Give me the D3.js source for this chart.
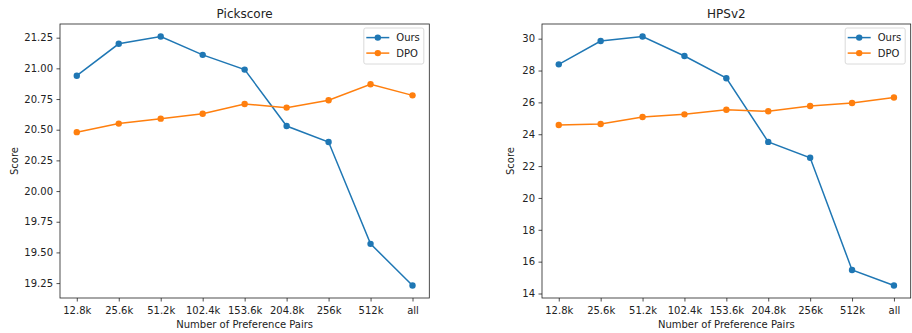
<!DOCTYPE html>
<html>
<head>
<meta charset="utf-8">
<script src="https://cdn.jsdelivr.net/npm/d3@7"></script>
<style>
  body { margin: 0; background: #fff; }
  svg { display: block; font-family: 'DejaVu Sans', sans-serif; }
  .axis text { font-family: 'DejaVu Sans', sans-serif; font-size: 10px; fill: #222; }
  .axis line { stroke: #222; stroke-width: 0.8; }
  .axis .domain { display: none; }
  .frame { fill: none; stroke: #222; stroke-width: 0.8; }
  .title { font-size: 12px; fill: #222; text-anchor: middle; }
  .label { font-size: 10px; fill: #222; text-anchor: middle; }
  .legend text { font-size: 10px; fill: #222; }
</style>
</head>
<body>
<svg width="912" height="333"></svg>
<script>
const categories = ['12.8k', '25.6k', '51.2k', '102.4k', '153.6k', '204.8k', '256k', '512k', 'all'];

const pickOurs = [20.94, 21.20, 21.26, 21.11, 20.99, 20.53, 20.40, 19.57, 19.23];
const pickDpo = [20.48, 20.55, 20.59, 20.63, 20.71, 20.68, 20.74, 20.87, 20.78];
const pickTicks = [19.25, 19.50, 19.75, 20.00, 20.25, 20.50, 20.75, 21.00, 21.25];

const hpsOurs = [28.39, 29.85, 30.14, 28.91, 27.52, 23.52, 22.52, 15.48, 14.50];
const hpsDpo = [24.58, 24.64, 25.08, 25.25, 25.54, 25.44, 25.77, 25.96, 26.31];
const hpsTicks = [14, 16, 18, 20, 22, 24, 26, 28, 30];

const seriesNames = ['Ours', 'DPO'];
const colors = ['#1f77b4', '#ff7f0e'];

const svg = d3.select('svg');
svg.append('rect').attr('width', 912).attr('height', 333).attr('fill', '#fff');

const plotTop = 24;
const plotBottom = 298;

const drawPanel = (opts) => {
  const { left, right, title, ours, dpo, ticks, fmt, ylabelX } = opts;

  const x = d3.scalePoint()
    .domain(categories)
    .range([left, right])
    .padding(0.4);

  const all = ours.concat(dpo);
  const [lo, hi] = d3.extent(all);
  const pad = (hi - lo) * 0.05;
  const y = d3.scaleLinear()
    .domain([lo - pad, hi + pad])
    .range([plotBottom, plotTop]);

  const g = svg.append('g');

  // series
  [ours, dpo].forEach((vals, si) => {
    const line = d3.line()
      .x((d, i) => x(categories[i]))
      .y(d => y(d));
    g.append('path')
      .datum(vals)
      .attr('fill', 'none')
      .attr('stroke', colors[si])
      .attr('stroke-width', 1.5)
      .attr('d', line);
    g.selectAll('.dot' + si)
      .data(vals)
      .enter()
      .append('circle')
      .attr('cx', (d, i) => x(categories[i]))
      .attr('cy', d => y(d))
      .attr('r', 3.2)
      .attr('fill', colors[si]);
  });

  g.append('g')
    .attr('class', 'axis')
    .attr('transform', `translate(${left}, 0)`)
    .call(d3.axisLeft(y).tickValues(ticks).tickFormat(fmt).tickSizeOuter(0).tickSize(3.5).tickPadding(3.5));

  g.append('g')
    .attr('class', 'axis')
    .attr('transform', `translate(0, ${plotBottom})`)
    .call(d3.axisBottom(x).tickSizeOuter(0).tickSize(3.5).tickPadding(5.5));

  g.selectAll('.axis').attr('font-family', null).attr('font-size', null);

  g.append('rect')
    .attr('class', 'frame')
    .attr('x', left)
    .attr('y', plotTop)
    .attr('width', right - left)
    .attr('height', plotBottom - plotTop);

  g.append('text')
    .attr('class', 'title')
    .attr('x', (left + right) / 2)
    .attr('y', 18)
    .text(title);

  g.append('text')
    .attr('class', 'label')
    .attr('x', (left + right) / 2)
    .attr('y', 328)
    .text('Number of Preference Pairs');

  g.append('text')
    .attr('class', 'label')
    .attr('transform', `translate(${ylabelX}, ${(plotTop + plotBottom) / 2}) rotate(-90)`)
    .text('Score');

  // legend
  const lw = 60;
  const lh = 36;
  const lx = right - 5.5 - lw;
  const ly = plotTop + 4;
  const legend = g.append('g').attr('class', 'legend');
  legend.append('rect')
    .attr('x', lx)
    .attr('y', ly)
    .attr('width', lw)
    .attr('height', lh)
    .attr('rx', 2)
    .attr('fill', '#fff')
    .attr('fill-opacity', 0.8)
    .attr('stroke', '#d0d0d0')
    .attr('stroke-width', 0.8);
  seriesNames.forEach((name, i) => {
    const ry = ly + 9.6 + i * 15.5;
    legend.append('line')
      .attr('x1', lx + 2.5)
      .attr('x2', lx + 25.5)
      .attr('y1', ry)
      .attr('y2', ry)
      .attr('stroke', colors[i])
      .attr('stroke-width', 1.5);
    legend.append('circle')
      .attr('cx', lx + 14)
      .attr('cy', ry)
      .attr('r', 3.2)
      .attr('fill', colors[i]);
    legend.append('text')
      .attr('x', lx + 32.5)
      .attr('y', ry)
      .attr('dy', '0.35em')
      .text(name);
  });
};

drawPanel({
  left: 60, right: 429.3, title: 'Pickscore',
  ours: pickOurs, dpo: pickDpo, ticks: pickTicks,
  fmt: d3.format('.2f'), ylabelX: 17.5
});

drawPanel({
  left: 542, right: 910.7, title: 'HPSv2',
  ours: hpsOurs, dpo: hpsDpo, ticks: hpsTicks,
  fmt: d3.format('d'), ylabelX: 513.5
});
</script>
</body>
</html>
